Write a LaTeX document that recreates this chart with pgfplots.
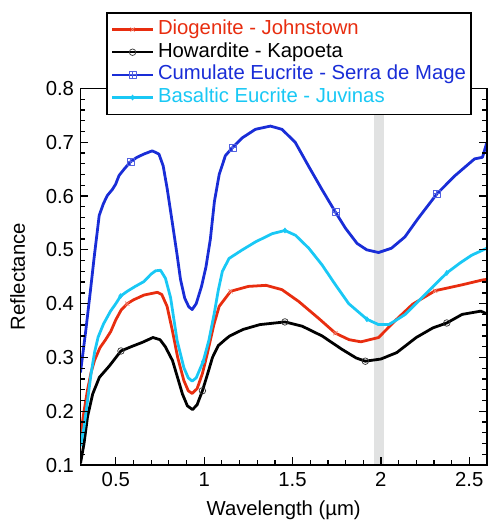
\documentclass[border=0pt]{standalone}
\usepackage{pgfplots}
\pgfplotsset{compat=1.18}
\usepackage{fontspec}
\setmainfont{Liberation Sans}
\definecolor{cRed}{RGB}{232,45,15}
\definecolor{cBlue}{RGB}{25,45,215}
\definecolor{cCyan}{RGB}{25,200,245}
\definecolor{cBand}{RGB}{225,226,226}
\pgfdeclareplotmark{boxplus}{%
  \pgfpathrectangle{\pgfpoint{-\pgfplotmarksize}{-\pgfplotmarksize}}{\pgfpoint{2\pgfplotmarksize}{2\pgfplotmarksize}}%
  \pgfpathmoveto{\pgfpoint{-\pgfplotmarksize}{0pt}}\pgfpathlineto{\pgfpoint{\pgfplotmarksize}{0pt}}%
  \pgfpathmoveto{\pgfpoint{0pt}{-\pgfplotmarksize}}\pgfpathlineto{\pgfpoint{0pt}{\pgfplotmarksize}}%
  \pgfusepathqstroke}
\begin{document}
\begin{tikzpicture}[font=\fontsize{20.5}{24}\selectfont]
\begin{axis}[
  scale only axis, width=409bp, height=379bp,
  xmin=0.3, xmax=2.6, ymin=0.1, ymax=0.8,
  xtick={0.5,1,1.5,2,2.5},
  ytick={0.1,0.2,0.3,0.4,0.5,0.6,0.7,0.8},
  minor x tick num=4, minor y tick num=4,
  tick align=inside, major tick length=8bp, minor tick length=5bp,
  axis line style={line width=1.6bp},
  every tick/.style={line width=1.3bp, black},
  axis on top,
  /pgf/number format/assume math mode=true,
  ticklabel style={font=\fontsize{20.5}{24}\selectfont},
  xticklabel style={yshift=-4bp},
  yticklabel style={xshift=-3bp},
  xlabel={Wavelength (µm)}, ylabel={Reflectance},
  xlabel style={at={(axis description cs:0.5,-0.134)}, anchor=base},
  ylabel style={at={(axis description cs:-0.137,0.5)}, anchor=base},
  every axis plot/.append style={line join=round},
  legend cell align=left,
  legend style={at={(axis description cs:0.0636,1.203)}, anchor=north west,
    draw=black, line width=1.6bp, fill=white,
    font=\fontsize{20.5}{24}\selectfont, inner xsep=4bp, inner ysep=5.5bp, column sep=3bp,
    nodes={inner ysep=1.4bp, inner xsep=1bp, text height=15bp, text depth=5bp}},
  legend image code/.code={\draw[#1, line width=2.2bp, mark indices={2}] plot coordinates {(0bp,0bp) (20.5bp,0bp) (41bp,0bp)};},
]
\addplot[fill=cBand, draw=none, forget plot] coordinates {(1.96,0.1) (2.02,0.1) (2.02,0.8) (1.96,0.8)} -- cycle;

% Diogenite - Johnstown
\addplot[cRed, line width=2.8bp, mark=x, mark size=3bp, mark indices={11,27,33,39},
  mark options={line width=0.7bp, draw=cRed!60}] coordinates {
(0.300,0.155) (0.320,0.200) (0.340,0.240) (0.360,0.272) (0.380,0.295)
(0.410,0.318) (0.440,0.332) (0.471,0.348) (0.500,0.370) (0.530,0.388)
(0.565,0.400) (0.600,0.407) (0.660,0.416) (0.735,0.421) (0.760,0.417)
(0.790,0.395) (0.820,0.350) (0.850,0.300) (0.885,0.257) (0.910,0.238)
(0.932,0.233) (0.960,0.242) (0.990,0.270) (1.017,0.306) (1.055,0.361)
(1.085,0.395) (1.150,0.423) (1.250,0.432) (1.350,0.434) (1.440,0.426)
(1.535,0.404) (1.650,0.372) (1.743,0.345) (1.820,0.333) (1.887,0.329)
(1.987,0.337) (2.080,0.368) (2.180,0.399) (2.307,0.424) (2.460,0.435)
(2.575,0.444) (2.600,0.445)};
\addlegendentry{\textcolor{cRed}{Diogenite - Johnstown}}

% Howardite - Kapoeta
\addplot[black, line width=2.8bp, mark=o, mark size=3.3bp, mark indices={7,19,27,32,37},
  mark options={line width=0.7bp, draw=black!80}] coordinates {
(0.300,0.103) (0.320,0.140) (0.340,0.190) (0.369,0.232) (0.407,0.263)
(0.463,0.284) (0.529,0.312) (0.595,0.321) (0.650,0.328) (0.710,0.337)
(0.750,0.333) (0.780,0.320) (0.821,0.294) (0.850,0.262) (0.877,0.232)
(0.905,0.210) (0.934,0.203) (0.960,0.212) (0.990,0.238) (1.020,0.270)
(1.047,0.300) (1.080,0.322) (1.122,0.334) (1.145,0.340) (1.220,0.352)
(1.315,0.361) (1.457,0.366) (1.555,0.358) (1.667,0.340) (1.780,0.315)
(1.860,0.299) (1.912,0.293) (2.000,0.297) (2.090,0.309) (2.200,0.337)
(2.295,0.355) (2.373,0.364) (2.460,0.380) (2.565,0.386) (2.600,0.381)};
\addlegendentry{Howardite - Kapoeta}

% Cumulate Eucrite - Serra de Mage
\addplot[cBlue, line width=2.8bp, mark=boxplus, mark size=3.5bp, mark indices={12,32,40,48},
  mark options={line width=0.8bp, draw=cBlue!75, fill=white}] coordinates {
(0.300,0.272) (0.330,0.350) (0.358,0.429) (0.377,0.485) (0.406,0.564)
(0.430,0.586) (0.452,0.601) (0.480,0.612) (0.499,0.622) (0.518,0.638)
(0.547,0.650) (0.584,0.664) (0.620,0.672) (0.659,0.678) (0.706,0.684)
(0.744,0.678) (0.768,0.656) (0.791,0.613) (0.819,0.552) (0.847,0.490)
(0.866,0.445) (0.890,0.410) (0.913,0.394) (0.932,0.389) (0.955,0.400)
(0.985,0.432) (1.010,0.468) (1.035,0.520) (1.058,0.590) (1.085,0.640)
(1.120,0.675) (1.160,0.690) (1.215,0.708) (1.290,0.724) (1.375,0.730)
(1.440,0.724) (1.515,0.700) (1.590,0.656) (1.665,0.613) (1.743,0.570)
(1.800,0.540) (1.865,0.512) (1.920,0.500) (1.987,0.495) (2.060,0.503)
(2.136,0.524) (2.210,0.558) (2.317,0.604) (2.420,0.638) (2.530,0.669)
(2.575,0.672) (2.594,0.693) (2.600,0.700)};
\addlegendentry{\textcolor{cBlue}{Cumulate Eucrite - Serra de Mage}}

% Basaltic Eucrite - Juvinas
\addplot[cCyan, line width=2.8bp, mark=diamond*, mark size=2.6bp, mark indices={10,24,33,39,45},
  mark options={line width=0.5bp}] coordinates {
(0.300,0.135) (0.320,0.170) (0.340,0.220) (0.360,0.270) (0.380,0.310)
(0.400,0.338) (0.430,0.362) (0.470,0.386) (0.500,0.400) (0.527,0.414)
(0.565,0.423) (0.610,0.432) (0.659,0.441) (0.700,0.455) (0.725,0.461)
(0.753,0.462) (0.781,0.447) (0.810,0.411) (0.847,0.331) (0.885,0.281)
(0.910,0.262) (0.932,0.256) (0.955,0.262) (0.994,0.292) (1.026,0.331)
(1.056,0.380) (1.080,0.425) (1.103,0.460) (1.141,0.484) (1.216,0.500)
(1.292,0.515) (1.385,0.530) (1.457,0.536) (1.517,0.527) (1.592,0.503)
(1.667,0.472) (1.743,0.435) (1.818,0.400) (1.921,0.371) (1.987,0.361)
(2.044,0.361) (2.090,0.370) (2.138,0.380) (2.232,0.411) (2.373,0.457)
(2.450,0.476) (2.514,0.490) (2.580,0.500) (2.600,0.503)};
\addlegendentry{\textcolor{cCyan}{Basaltic Eucrite - Juvinas}}
\end{axis}
\path ([shift={(-81bp,-54.7bp)}]current axis.south west) rectangle ([shift={(4bp,89bp)}]current axis.north east);
\end{tikzpicture}
\end{document}
